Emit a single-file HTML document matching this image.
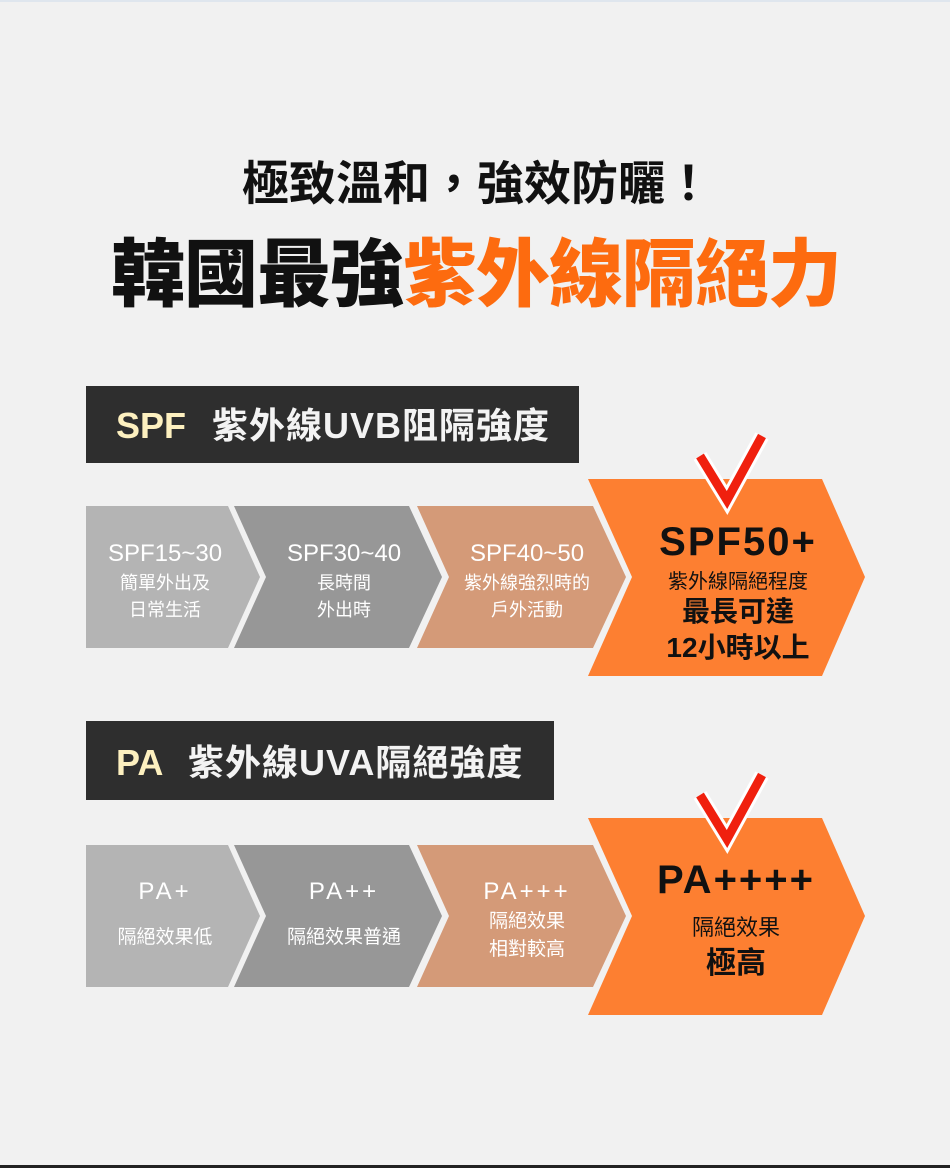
<!DOCTYPE html>
<html><head><meta charset="utf-8"><style>
html,body{margin:0;padding:0;background:#f1f1f1;}
svg{display:block;}
text{font-family:"Liberation Sans","Noto Sans CJK TC",sans-serif;}
</style></head><body>
<svg width="950" height="1168" viewBox="0 0 950 1168" xmlns="http://www.w3.org/2000/svg">
<rect width="950" height="1168" fill="#f1f1f1"/>
<rect x="0" y="0" width="950" height="2" fill="#dfe6ee"/>
<rect x="0" y="1165" width="950" height="3" fill="#222"/>
<text x="477" y="200" text-anchor="middle" font-size="47" font-weight="700" fill="#111">極致溫和，強效防曬！</text>
<text x="476" y="300" text-anchor="middle" font-size="74" font-weight="900" fill="#111" letter-spacing="-1">韓國最強<tspan fill="#fd6b0f">紫外線隔絕力</tspan></text>

<rect x="86" y="386" width="493" height="77" fill="#2e2e2e"/>
<text x="116" y="438" font-size="36" font-weight="700" fill="#fdf0bf">SPF</text>
<text x="212" y="438" font-size="36" font-weight="700" fill="#f3f3f3" letter-spacing="1">紫外線UVB阻隔強度</text>

<g id="row1">
<polygon points="86,506 228,506 260,577 228,648 86,648" fill="#b4b4b4"/>
<polygon points="234,506 409,506 442,577 409,648 234,648 266,577" fill="#979797"/>
<polygon points="417,506 593,506 626,577 593,648 417,648 449,577" fill="#d49a78"/>
<polygon points="588,479 822,479 865,577 822,676 588,676 632,577" fill="#fd7f31"/>
</g>
<polyline points="700,456 727,500 762,436" fill="none" stroke="#fff" stroke-width="15" stroke-linejoin="miter"/>
<polyline points="700,456 727,500 762,436" fill="none" stroke="#f0200e" stroke-width="9" stroke-linejoin="miter"/>
<g fill="#fff" text-anchor="middle">
<text x="165" y="561" font-size="24">SPF15~30</text>
<text x="165" y="589" font-size="18">簡單外出及</text>
<text x="165" y="616" font-size="18">日常生活</text>
<text x="344" y="561" font-size="24">SPF30~40</text>
<text x="344" y="589" font-size="18">長時間</text>
<text x="344" y="616" font-size="18">外出時</text>
<text x="527" y="561" font-size="24">SPF40~50</text>
<text x="527" y="589" font-size="18">紫外線強烈時的</text>
<text x="527" y="616" font-size="18">戶外活動</text>
</g>
<g fill="#111" text-anchor="middle">
<text x="738" y="555" font-size="40" font-weight="700" letter-spacing="2">SPF50+</text>
<text x="738" y="588" font-size="20">紫外線隔絕程度</text>
<text x="738" y="621" font-size="28" font-weight="700">最長可達</text>
<text x="738" y="657" font-size="28" font-weight="700">12小時以上</text>
</g>

<rect x="86" y="721" width="468" height="79" fill="#2e2e2e"/>
<text x="116" y="775" font-size="36" font-weight="700" fill="#fdf0bf">PA</text>
<text x="188" y="775" font-size="36" font-weight="700" fill="#f3f3f3" letter-spacing="1">紫外線UVA隔絕強度</text>

<g transform="translate(0,339)">
<polygon points="86,506 228,506 260,577 228,648 86,648" fill="#b4b4b4"/>
<polygon points="234,506 409,506 442,577 409,648 234,648 266,577" fill="#979797"/>
<polygon points="417,506 593,506 626,577 593,648 417,648 449,577" fill="#d49a78"/>
<polygon points="588,479 822,479 865,577 822,676 588,676 632,577" fill="#fd7f31"/>
<polyline points="700,456 727,500 762,436" fill="none" stroke="#fff" stroke-width="15"/>
<polyline points="700,456 727,500 762,436" fill="none" stroke="#f0200e" stroke-width="9"/>
</g>
<g fill="#fff" text-anchor="middle">
<text x="165" y="899" font-size="24" letter-spacing="3">PA+</text>
<text x="165" y="943" font-size="19">隔絕效果低</text>
<text x="344" y="899" font-size="24" letter-spacing="3">PA++</text>
<text x="344" y="943" font-size="19">隔絕效果普通</text>
<text x="527" y="899" font-size="24" letter-spacing="3">PA+++</text>
<text x="527" y="927" font-size="19">隔絕效果</text>
<text x="527" y="955" font-size="19">相對較高</text>
</g>
<g fill="#111" text-anchor="middle">
<text x="736" y="893" font-size="40" font-weight="700" letter-spacing="2">PA++++</text>
<text x="736" y="935" font-size="22">隔絕效果</text>
<text x="736" y="973" font-size="30" font-weight="700">極高</text>
</g>
</svg>
</body></html>
